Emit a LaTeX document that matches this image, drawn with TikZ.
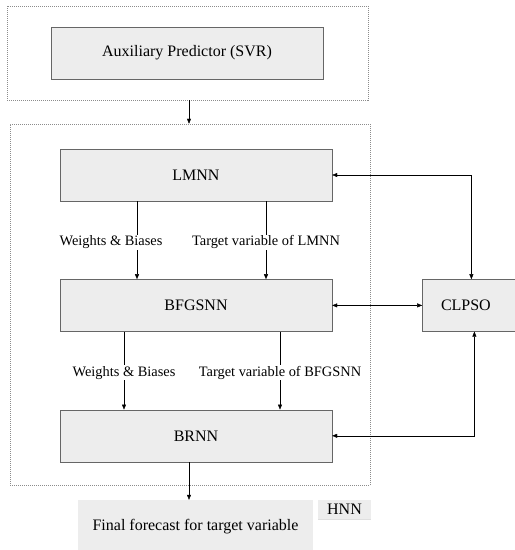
\documentclass[tikz,border=0pt]{standalone}
\usepackage{fontspec}
\setmainfont{Liberation Serif}
\usepackage{tikz}
\usetikzlibrary{arrows.meta,positioning,calc,shadows}

\begin{document}
\begin{tikzpicture}[x=1pt, y=-1pt,
    >={Triangle[length=5pt,width=4pt]},
    model/.style={draw=black!60, fill=black!7, minimum width=272pt, minimum height=52pt,
      inner sep=0pt, font=\fontsize{16}{19}\selectfont,
      drop shadow={shadow xshift=1pt, shadow yshift=-1pt, opacity=0.25}},
    group/.style={draw=black!45, line width=0.5pt, dash pattern=on 1pt off 1pt, inner sep=0pt},
    lbl/.style={fill=white, inner sep=1pt, font=\fontsize{14.4}{17}\selectfont}]
  \useasboundingbox (0,0) rectangle (515,550);

  % auxiliary predictor stage
  \node[group, minimum width=361pt, minimum height=94pt] (auxgrp) at (187.5,53) {};
  \node[model] (svr) at (187,53) {Auxiliary Predictor (SVR)};

  % hybrid network stage
  \node[group, minimum width=360pt, minimum height=361pt] (hnngrp) at (190,304.5) {};
  \node[model] (lmnn) at (196,175) {LMNN};
  \node[model, below=78pt of lmnn] (bfgs) {BFGSNN};
  \node[model, below=78pt of bfgs] (brnn) {BRNN};

  % optimiser
  \node[model, minimum width=98pt, right=90pt of bfgs] (clpso) {\hspace*{-11pt}CLPSO};

  % final output
  \node[fill=black!7, minimum width=235pt, minimum height=54pt, inner sep=0pt,
    font=\fontsize{16}{19}\selectfont] (final) at (195.5,527) {Final forecast for target variable};
  \node[fill=black!7, minimum width=53pt, minimum height=19pt, inner sep=0pt,
    font=\fontsize{16}{19}\selectfont,
    drop shadow={shadow xshift=0pt, shadow yshift=-1.2pt, opacity=0.25}] (hnn) at (344.5,509.5) {HNN};

  % arrows
  \draw[->] ([xshift=1.5pt]auxgrp.south) -- ([xshift=1.5pt]auxgrp.south |- hnngrp.north);
  \draw[->] ([xshift=-59pt]lmnn.south) -- node[lbl, xshift=-26pt, yshift=-2pt] {Weights \& Biases} ([xshift=-59pt]bfgs.north);
  \draw[->] ([xshift=70pt]lmnn.south) -- node[lbl, yshift=-2pt] {Target variable of LMNN} ([xshift=70pt]bfgs.north);
  \draw[->] ([xshift=-72pt]bfgs.south) -- node[lbl, yshift=-2pt] {Weights \& Biases} ([xshift=-72pt]brnn.north);
  \draw[->] ([xshift=84pt]bfgs.south) -- node[lbl, yshift=-2pt] {Target variable of BFGSNN} ([xshift=84pt]brnn.north);
  \draw[<->] (lmnn.east) -| (clpso.north);
  \draw[<->] (bfgs.east) -- (clpso.west);
  \draw[<->] (brnn.east) -| ([xshift=3pt]clpso.south);
  \draw[->] ([xshift=-7pt]brnn.south) -- ([xshift=-7pt]brnn.south |- final.north);
\end{tikzpicture}
\end{document}
